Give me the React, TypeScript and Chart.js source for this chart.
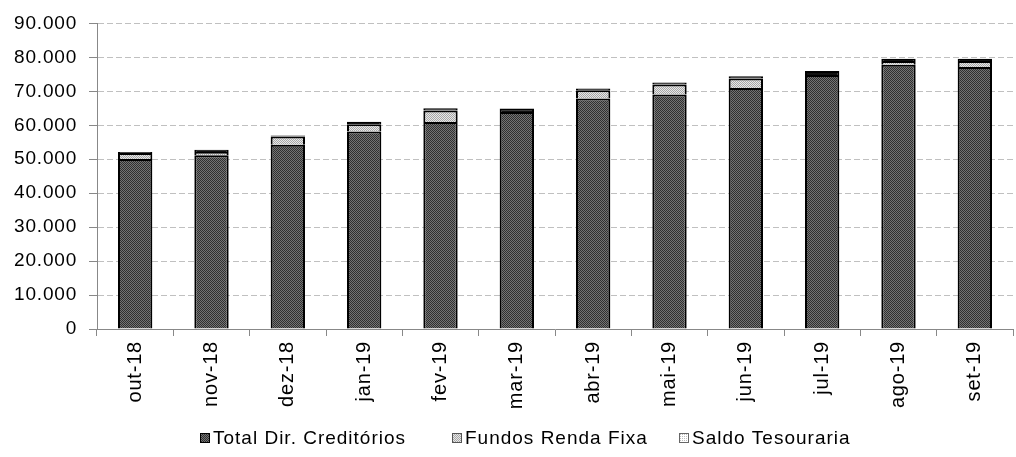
import React, { useEffect, useRef } from 'react';
import { Chart, registerables } from 'chart.js';

Chart.register(...registerables);

const categories = ['out-18', 'nov-18', 'dez-18', 'jan-19', 'fev-19', 'mar-19', 'abr-19', 'mai-19', 'jun-19', 'jul-19', 'ago-19', 'set-19'];
const totalDirCreditorios = [50060, 51140, 54270, 58150, 60930, 63900, 67880, 69050, 71010, 74800, 77820, 77150];
const fundosRendaFixa = [1740, 1000, 2410, 2150, 3410, 0, 2440, 2940, 2730, 0, 1070, 1740];
const saldoTesouraria = [350, 660, 300, 770, 680, 1070, 500, 570, 680, 1170, 680, 680];
const seriesNames = ['Total Dir. Creditórios', 'Fundos Renda Fixa', 'Saldo Tesouraria'];
const yMin = 0;
const yMax = 90000;
const yStep = 10000;

const FONT_FAMILY = '"Liberation Sans", Arial, sans-serif';
const FONT_SIZE = 19;
const X_FONT_SIZE = 20;
const LETTER_SPACING = '0.8px';
const LEGEND_LETTER_SPACING = '1px';
const LEGEND_BOX_X = [200, 452, 679];

function makePattern(bg: string, fg: string, sparse: boolean): CanvasPattern | string {
  const c = document.createElement('canvas');
  c.width = 4;
  c.height = 4;
  const g = c.getContext('2d');
  if (!g) return bg;
  g.fillStyle = bg;
  g.fillRect(0, 0, 4, 4);
  g.fillStyle = fg;
  for (let y = 0; y < 4; y++) {
    for (let x = 0; x < 4; x++) {
      if (sparse) {
        if (x % 2 === 0 && y % 2 === 0) g.fillRect(x, y, 1, 1);
      } else if ((x + y) % 2 === 0) {
        g.fillRect(x, y, 1, 1);
      }
    }
  }
  const p = g.createPattern(c, 'repeat');
  return p || bg;
}

function formatThousands(v: number): string {
  return String(Math.round(v)).replace(/\B(?=(\d{3})+(?!\d))/g, '.');
}

export default function App() {
  const canvasRef = useRef<HTMLCanvasElement | null>(null);

  useEffect(() => {
    const canvas = canvasRef.current;
    if (!canvas) return;

    const dirFill = makePattern('#747474', '#303030', false);
    const fundosFill = makePattern('#e8e8e8', '#a6a6a6', false);
    const saldoLegendFill = makePattern('#ffffff', '#bdbdbd', true);
    const saldoBarFill = '#111111';

    const legendItems = [
      { text: seriesNames[0], fill: dirFill, stroke: '#000000' },
      { text: seriesNames[1], fill: fundosFill, stroke: '#555555' },
      { text: seriesNames[2], fill: saldoLegendFill, stroke: '#666666' },
    ];

    const spacingPlugin = {
      id: 'letterSpacingPlugin',
      beforeDraw(chart: any) {
        (chart.ctx as any).letterSpacing = LETTER_SPACING;
      },
    };

    const legendPlugin = {
      id: 'customLegend',
      afterDraw(chart: any) {
        const ctx = chart.ctx as CanvasRenderingContext2D;
        ctx.save();
        ctx.font = `${FONT_SIZE}px ${FONT_FAMILY}`;
        (ctx as any).letterSpacing = LEGEND_LETTER_SPACING;
        ctx.textBaseline = 'middle';
        ctx.textAlign = 'left';
        const y = 438;
        legendItems.forEach((item, i) => {
          const x = LEGEND_BOX_X[i];
          ctx.fillStyle = item.fill as any;
          ctx.fillRect(x, y - 5, 10, 10);
          ctx.strokeStyle = item.stroke;
          ctx.lineWidth = 1;
          ctx.strokeRect(x + 0.5, y - 4.5, 9, 9);
          ctx.fillStyle = '#000000';
          ctx.fillText(item.text, x + 13, y + 1);
        });
        ctx.restore();
      },
    };

    const barCommon = {
      borderColor: '#000000',
      borderWidth: 2,
      borderSkipped: 'start' as const,
      barPercentage: 0.45,
      categoryPercentage: 1.0,
    };

    const chart = new Chart(canvas, {
      type: 'bar',
      data: {
        labels: categories,
        datasets: [
          { label: seriesNames[0], data: totalDirCreditorios, backgroundColor: dirFill as any, ...barCommon },
          { label: seriesNames[1], data: fundosRendaFixa, backgroundColor: fundosFill as any, ...barCommon },
          { label: seriesNames[2], data: saldoTesouraria, backgroundColor: saldoBarFill, ...barCommon },
        ],
      },
      options: {
        animation: false,
        responsive: true,
        maintainAspectRatio: false,
        layout: { padding: { top: 21, right: 3, left: 0, bottom: 0 } },
        plugins: {
          legend: { display: false },
          tooltip: { enabled: false },
          title: { display: false },
        },
        scales: {
          x: {
            stacked: true,
            afterFit: (scale: any) => {
              scale.height = 128;
            },
            grid: {
              display: true,
              drawOnChartArea: false,
              drawTicks: true,
              tickLength: 7,
              tickColor: '#888888',
              tickWidth: 1,
              offset: true,
            },
            border: { display: true, color: '#888888', width: 1 },
            ticks: {
              autoSkip: false,
              minRotation: 90,
              maxRotation: 90,
              padding: 5,
              color: '#000000',
              font: { family: FONT_FAMILY, size: X_FONT_SIZE },
            },
          },
          y: {
            stacked: true,
            min: yMin,
            max: yMax,
            afterFit: (scale: any) => {
              scale.width = 97;
            },
            grid: {
              color: '#c0c0c0',
              lineWidth: 1,
              drawTicks: true,
              tickLength: 8,
              tickColor: '#888888',
              tickWidth: 1,
            },
            border: { display: true, color: '#888888', width: 1, dash: [6, 3] },
            ticks: {
              stepSize: yStep,
              padding: 12,
              color: '#000000',
              font: { family: FONT_FAMILY, size: FONT_SIZE },
              callback: (v: any) => formatThousands(Number(v)),
            },
          },
        },
      },
      plugins: [spacingPlugin, legendPlugin],
    });

    return () => {
      chart.destroy();
    };
  }, []);

  return (
    <div style={{ position: 'fixed', left: 0, top: 0, width: 1016, height: 457, background: '#ffffff' }}>
      <canvas ref={canvasRef} />
    </div>
  );
}
